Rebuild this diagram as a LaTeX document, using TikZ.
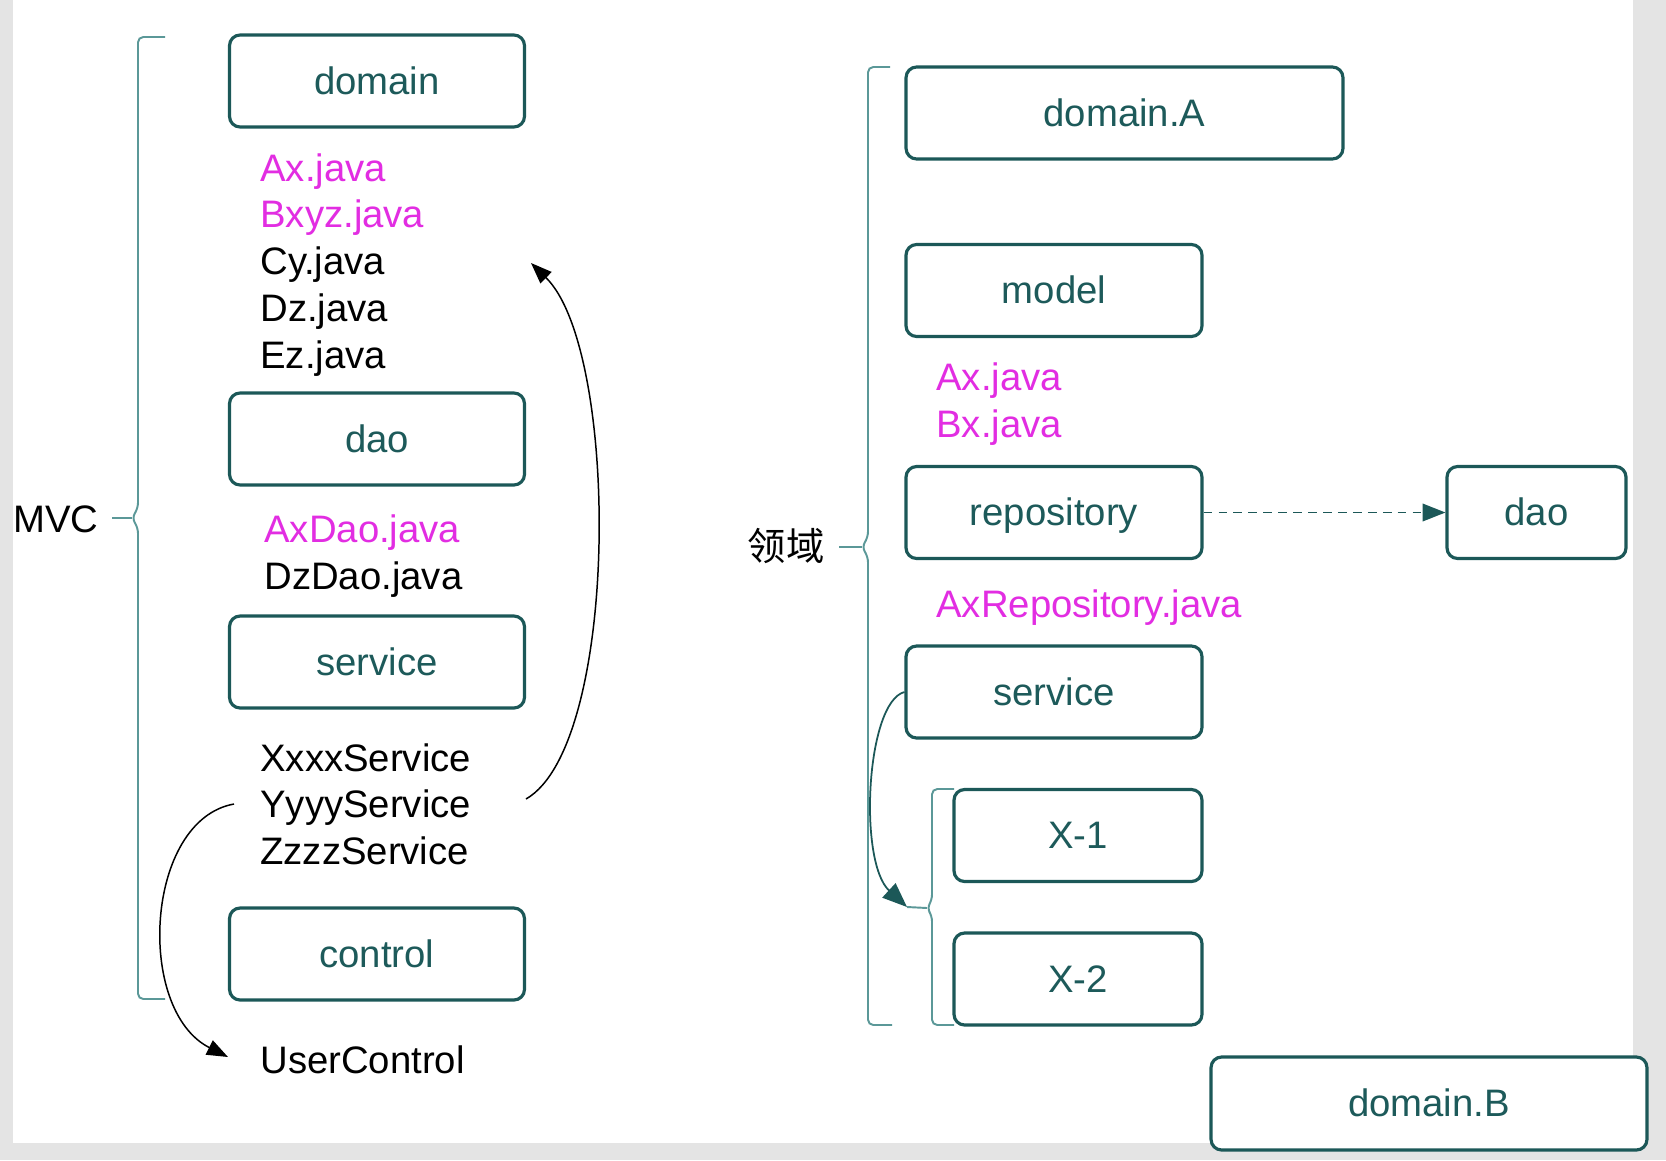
\documentclass[tikz,border=0pt]{standalone}
\usepackage{fontspec}
\setmainfont{Liberation Sans}
\newfontfamily\cjk{Noto Sans CJK SC}
\usetikzlibrary{arrows.meta}
\definecolor{boxline}{HTML}{1C5858}
\definecolor{boxtext}{HTML}{1D5A5A}
\definecolor{braceline}{HTML}{5B9898}
\definecolor{hotpink}{HTML}{E22DE2}
\definecolor{pagegray}{HTML}{E4E4E4}
\newcommand{\diagfont}{\fontsize{21.8}{26}\selectfont}

\begin{document}
\begin{tikzpicture}[x=0.02cm,y=-0.02cm]
	\tikzstyle{pkg}=[draw=boxline,line width=1.8pt,rounded corners=6pt,fill=white,text=boxtext,font=\diagfont,minimum height=1.84cm,text height=15pt,text depth=0pt,inner sep=0pt]
	\tikzstyle{file}=[anchor=base west,inner sep=0pt,font=\diagfont]
	\tikzstyle{hot}=[file,text=hotpink]
	\tikzstyle{brace}=[draw=braceline,line width=1.1pt,rounded corners=3pt]
	\tikzstyle{flow}=[-{Triangle[length=12pt,width=9pt]},line width=0.85pt]

	\useasboundingbox (0,0) rectangle (1666,1160);
	\fill[pagegray] (0,0) rectangle (1666,1160);
	\fill[white] (13,0) rectangle (1633,1143);

	% MVC side
	\node [file,anchor=base] (mvc) at (56,532) {MVC};
	\draw [brace] (165,37) -| (138,508) -- (132,518) -- (138,528) |- (165,999);
	\draw [brace] (132,518) -- (112,518);

	\node [pkg,minimum width=5.9cm] (domain) at (377,81) {domain};
	\node [hot] (ax) at (260,181) {Ax.java};
	\node [hot] (bxyz) at (260,227) {Bxyz.java};
	\node [file] (cy) at (260,274) {Cy.java};
	\node [file] (dz) at (260,321) {Dz.java};
	\node [file] (ez) at (260,368) {Ez.java};

	\node [pkg,minimum width=5.9cm] (dao) at (377,439) {dao};
	\node [hot] (axdao) at (264,542) {AxDao.java};
	\node [file] (dzdao) at (264,589) {DzDao.java};

	\node [pkg,minimum width=5.9cm] (service) at (377,662) {service};
	\node [file] (xxxx) at (260,771) {XxxxService};
	\node [file] (yyyy) at (260,817) {YyyyService};
	\node [file] (zzzz) at (260,864) {ZzzzService};

	\node [pkg,minimum width=5.9cm] (control) at (377,954) {control};
	\node [file] (usercontrol) at (260,1073) {UserControl};

	\coordinate (yyyy_r) at (526,799);
	\coordinate (cy_r) at (531,263);
	\coordinate (yyyy_l) at (234,804);
	\coordinate (uc_l) at (228,1057);
	\draw [flow] (yyyy_r) .. controls (620,745) and (620,350) .. (cy_r);
	\draw [flow] (yyyy_l) .. controls (145,820) and (135,1010) .. (uc_l);

	% domain side
	\node [file,anchor=base,font=\diagfont\cjk] (area) at (786,560) {领域};
	\draw [brace] (890,67) -| (868,537) -- (862,547) -- (868,557) |- (892,1025);
	\draw [brace] (862,547) -- (839,547);

	\node [pkg,minimum width=8.74cm] (domain_a) at (1124.5,113) {domain.A};
	\node [pkg,minimum width=5.92cm] (model) at (1054,290.5) {model};
	\node [hot] (ax_m) at (936,390) {Ax.java};
	\node [hot] (bx_m) at (936,437) {Bx.java};
	\node [pkg,minimum width=5.92cm] (repository) at (1054,512.5) {repository};
	\node [pkg,minimum width=3.58cm] (dao_r) at (1536.5,512.5) {dao};
	\node [hot] (axrepo) at (936,617) {AxRepository.java};
	\node [pkg,minimum width=5.92cm] (service_r) at (1054,692) {service};
	\node [pkg,minimum width=4.96cm] (x1) at (1078,835.5) {X-1};
	\node [pkg,minimum width=4.96cm] (x2) at (1078,979) {X-2};
	\draw [brace] (954,789) -| (932,900) -- (927,908) -- (932,916) |- (954,1025);
	\coordinate (x_in) at (907,907);
	\draw [brace] (927,908) -- (x_in);

	\node [pkg,minimum width=8.72cm,minimum height=1.86cm] (domain_b) at (1429,1103.5) {domain.B};

	\draw [flow,boxline,line width=1pt,dash pattern=on 5pt off 3.5pt,-{Triangle[length=13pt,width=10pt]}] (repository) -- (dao_r);
	\draw [flow,boxline,line width=1pt,-{Triangle[length=14pt,width=11pt]}] (service_r.west) .. controls (866,702) and (858,862) .. (x_in);
\end{tikzpicture}
\end{document}
